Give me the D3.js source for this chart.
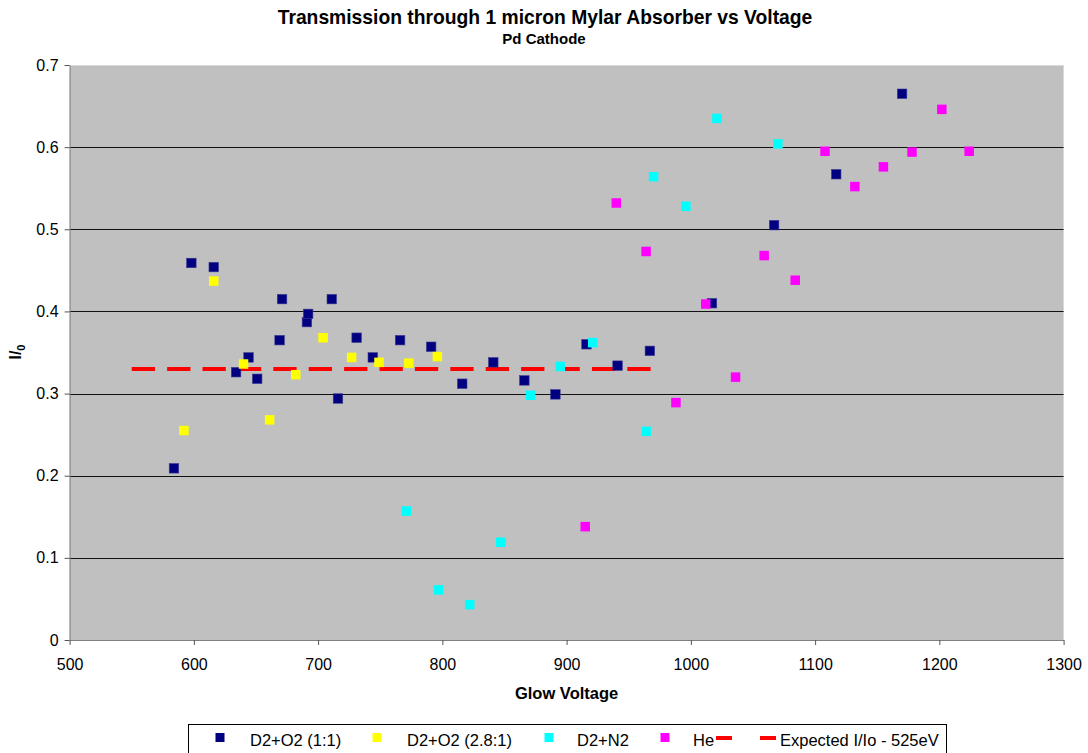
<!DOCTYPE html>
<html>
<head>
<meta charset="utf-8">
<script src="https://cdn.jsdelivr.net/npm/d3@7"></script>
<style>
  body { margin: 0; background: #fff; }
  text { font-family: Arial, "Liberation Sans", sans-serif; }
</style>
</head>
<body>
<svg id="chart"></svg>
<script>
// series: [glow voltage, I/Io]
const d2o2_1to1 = [
  [584, 0.209], [598, 0.459], [616, 0.454], [634, 0.326], [644, 0.344],
  [651, 0.318], [669, 0.365], [671, 0.415], [691, 0.387], [692, 0.397],
  [711, 0.415], [716, 0.294], [731, 0.368], [744, 0.344], [766, 0.365],
  [791, 0.357], [816, 0.312], [841, 0.338], [866, 0.316], [891, 0.299],
  [916, 0.360], [941, 0.334], [967, 0.352], [1017, 0.410], [1067, 0.505],
  [1117, 0.567], [1170, 0.665]
];
const d2o2_28to1 = [
  [592, 0.255], [616, 0.437], [640, 0.336], [661, 0.268], [682, 0.323],
  [704, 0.368], [727, 0.344], [749, 0.338], [773, 0.337], [796, 0.345]
];
const d2n2 = [
  [771, 0.157], [797, 0.061], [822, 0.043], [847, 0.119], [871, 0.298],
  [895, 0.333], [921, 0.362], [964, 0.254], [970, 0.564], [996, 0.528],
  [1021, 0.635], [1070, 0.604]
];
const he = [
  [915, 0.138], [940, 0.532], [964, 0.473], [988, 0.289], [1012, 0.409],
  [1036, 0.320], [1059, 0.468], [1084, 0.438], [1108, 0.595], [1132, 0.552],
  [1155, 0.576], [1178, 0.594], [1202, 0.646], [1224, 0.595]
];
const expected = [[550, 0.33], [970, 0.33]];

const seriesNames = ["D2+O2 (1:1)", "D2+O2 (2.8:1)", "D2+N2", "He"];
const seriesColors = ["#000080", "#ffff00", "#00ffff", "#ff00ff"];
const xTicks = [500, 600, 700, 800, 900, 1000, 1100, 1200, 1300];
const yTicks = [0, 0.1, 0.2, 0.3, 0.4, 0.5, 0.6, 0.7];

const W = 1088, H = 753;
const margin = { top: 65, left: 69.6, right: 24.4, bottom: 113 };
const width = W - margin.left - margin.right;
const height = H - margin.top - margin.bottom;

const svg = d3.select("#chart").attr("width", W).attr("height", H);

const x = d3.scaleLinear().domain([500, 1300]).range([0, width]);
const y = d3.scaleLinear().domain([0, 0.7]).range([height, 0]);

const g = svg.append("g").attr("transform", `translate(${margin.left},${margin.top})`);

// plot area
g.append("rect")
  .attr("width", width).attr("height", height)
  .attr("fill", "#c0c0c0");

// gridlines
g.append("g")
  .selectAll("line")
  .data(yTicks.filter(d => d > 0))
  .enter().append("line")
    .attr("x1", 0).attr("x2", width)
    .attr("y1", d => Math.round(y(d)) + 0.5)
    .attr("y2", d => Math.round(y(d)) + 0.5)
    .attr("stroke", d => d === 0.7 ? "#d8d8d8" : "#111")
    .attr("stroke-width", 1);

// axes
const yAxis = g.append("g")
  .call(d3.axisLeft(y).tickValues(yTicks).tickSize(5).tickSizeOuter(0)
    .tickFormat(d => d === 0 ? "0" : d3.format(".1f")(d)));
const xAxis = g.append("g")
  .attr("transform", `translate(0,${height})`)
  .call(d3.axisBottom(x).tickValues(xTicks).tickSize(5).tickSizeOuter(0)
    .tickFormat(d3.format("d")));

[yAxis, xAxis].forEach(a => {
  a.select(".domain").attr("stroke", "#808080");
  a.selectAll(".tick line").attr("stroke", "#555");
  a.selectAll("text").attr("fill", "#000").style("font-size", "16px")
    .style("font-family", "Arial, 'Liberation Sans', sans-serif");
});
yAxis.selectAll("text").attr("x", -11);
xAxis.selectAll("text").attr("y", 19);

// expected line
g.append("path")
  .datum(expected)
  .attr("d", d3.line().x(d => x(d[0])).y(d => y(d[1])))
  .attr("stroke", "#ff0000")
  .attr("stroke-width", 4)
  .attr("stroke-dasharray", "23.3,12.1")
  .attr("fill", "none");

// scatter markers
const allSeries = [d2o2_1to1, d2o2_28to1, d2n2, he];
const sz = 9.5;
allSeries.forEach((data, i) => {
  g.append("g")
    .selectAll("rect")
    .data(data)
    .enter().append("rect")
      .attr("x", d => x(d[0]) - sz / 2)
      .attr("y", d => y(d[1]) - sz / 2)
      .attr("width", sz).attr("height", sz)
      .attr("fill", seriesColors[i])
      .attr("stroke", i === 0 ? "#3a3a90" : "none")
      .attr("stroke-width", 0.6);
});

// titles
svg.append("text")
  .attr("x", 545).attr("y", 24)
  .attr("text-anchor", "middle")
  .style("font-size", "19.3px").style("font-weight", "bold")
  .text("Transmission through 1 micron Mylar Absorber vs Voltage");
svg.append("text")
  .attr("x", 544).attr("y", 44)
  .attr("text-anchor", "middle")
  .style("font-size", "15px").style("font-weight", "bold")
  .text("Pd Cathode");
svg.append("text")
  .attr("x", margin.left + width / 2).attr("y", 699)
  .attr("text-anchor", "middle")
  .style("font-size", "16.5px").style("font-weight", "bold")
  .text("Glow Voltage");

const yl = svg.append("text")
  .attr("transform", "translate(21,352) rotate(-90)")
  .attr("text-anchor", "middle")
  .style("font-size", "16px").style("font-weight", "bold");
yl.append("tspan").text("I/");
yl.append("tspan").attr("dy", 4).style("font-size", "11px").text("0");

// legend
const legend = svg.append("g");
legend.append("rect")
  .attr("x", 188.5).attr("y", 724.5)
  .attr("width", 758).attr("height", 40)
  .attr("fill", "#fff").attr("stroke", "#000").attr("stroke-width", 1);

const legendX = [220, 377, 549, 665];
const textX = [250, 407, 577, 693];
seriesNames.forEach((name, i) => {
  legend.append("rect")
    .attr("x", legendX[i] - 4.5).attr("y", 733)
    .attr("width", 9).attr("height", 9)
    .attr("fill", seriesColors[i]);
  legend.append("text")
    .attr("x", textX[i]).attr("y", 746)
    .style("font-size", "16.5px")
    .text(name);
});
legend.append("line")
  .attr("x1", 716).attr("x2", 776)
  .attr("y1", 738).attr("y2", 738)
  .attr("stroke", "#ff0000").attr("stroke-width", 4)
  .attr("stroke-dasharray", "16,28");
legend.append("text")
  .attr("x", 780).attr("y", 746)
  .style("font-size", "16.5px")
  .text("Expected I/Io - 525eV");
</script>
</body>
</html>
